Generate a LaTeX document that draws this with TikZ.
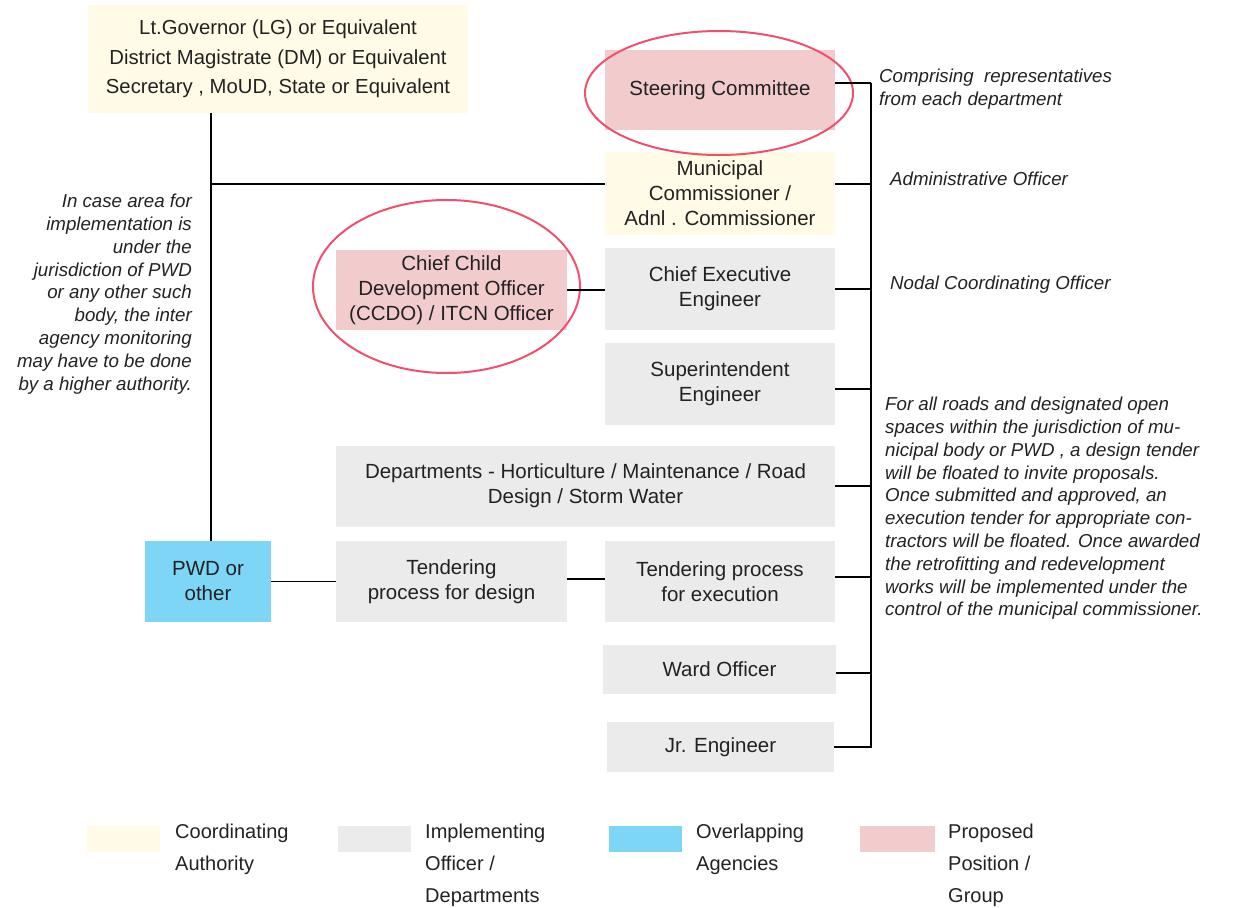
\documentclass[tikz,border=0pt]{standalone}
\usepackage{fontspec}
\setmainfont{Liberation Sans}
\usetikzlibrary{calc}
\definecolor{cream}{HTML}{FFFBE6}
\definecolor{pinkbox}{HTML}{F2CBCD}
\definecolor{graybox}{HTML}{EBEBEB}
\definecolor{bluebox}{HTML}{7DD6F6}
\definecolor{ringred}{HTML}{F0506E}
\definecolor{ink}{HTML}{222222}
\tikzset{
  box/.style={draw=none, inner sep=2pt, align=center, text=ink,
    font=\fontsize{20.5}{25}\selectfont},
  coord/.style={box, fill=cream},
  impl/.style={box, fill=graybox},
  over/.style={box, fill=bluebox},
  prop/.style={box, fill=pinkbox},
  note/.style={inner sep=0pt, text=ink, font=\fontsize{18.7}{22.8}\selectfont\itshape},
  legtext/.style={inner sep=0pt, text=ink, align=left, anchor=north west,
    font=\fontsize{20}{32}\selectfont},
  link/.style={line width=1.8pt, black},
  ring/.style={line width=2pt, ringred}
}
\begin{document}
\begin{tikzpicture}[x=1pt,y=-1pt]
\useasboundingbox (0,0) rectangle (1235,908);

% boxes
\node[coord, minimum width=380pt, minimum height=108pt, font=\fontsize{20.3}{29.5}\selectfont] (lg) at (278,59)
  {Lt.Governor (LG) or Equivalent\\District Magistrate (DM) or Equivalent\\Secretary , MoUD, State or Equivalent};
\node[prop, minimum width=230pt, minimum height=80pt] (steer) at (720,90) {Steering Committee};
\node[coord, minimum width=230pt, minimum height=83pt] (muni) at (720,193.5) {Municipal\\Commissioner /\\Adnl . Commissioner};
\node[impl, minimum width=230pt, minimum height=82pt] (cee) at (720,289) {Chief Executive\\Engineer};
\node[prop, minimum width=231pt, minimum height=80pt] (ccdo) at (451.5,290) {Chief Child\\Development Officer\\(CCDO) / ITCN Officer};
\node[impl, minimum width=230pt, minimum height=82pt] (se) at (720,384) {Superintendent\\Engineer};
\node[impl, minimum width=499pt, minimum height=81pt] (dept) at (585.5,486) {Departments - Horticulture / Maintenance / Road\\Design / Storm Water};
\node[over, minimum width=126pt, minimum height=81pt] (pwd) at (208,581.5) {PWD or\\other};
\node[impl, minimum width=231pt, minimum height=81pt] (tdes) at (451.5,581.5) {Tendering\\process for design};
\node[impl, minimum width=230pt, minimum height=81pt] (texe) at (720,581.5) {Tendering process\\for execution};
\node[impl, minimum width=233pt, minimum height=49pt] (ward) at (719.5,669.5) {Ward Officer};
\node[impl, minimum width=227pt, minimum height=50pt] (jr) at (720.5,747) {Jr. Engineer};

% rings
\draw[ring] (719,93) ellipse [x radius=134, y radius=62];
\draw[ring] (446.5,286.5) ellipse [x radius=133.5, y radius=86.5];

% connectors
\coordinate (busTop) at (871,83);
\coordinate (busBot) at (871,748);
\coordinate (lx) at (211,0);
\coordinate (steerE) at ($(steer.east)+(0,-7)$);
\coordinate (muniE) at ($(muni.east)+(0,-9.5)$);
\coordinate (muniW) at ($(muni.west)+(0,-9.5)$);
\draw[link] (busTop) -- (busBot);
\draw[link] (steerE) -- (steerE -| busTop);
\draw[link] (muniE) -- (muniE -| busTop);
\draw[link] (cee.east) -- (cee.east -| busTop);
\draw[link] ($(se.east)+(0,5)$) -- ($(se.east -| busTop)+(0,5)$);
\draw[link] (dept.east) -- (dept.east -| busTop);
\draw[link] ($(texe.east)+(0,-4.5)$) -- ($(texe.east -| busTop)+(0,-4.5)$);
\draw[link] ($(ward.east)+(0,3.5)$) -- ($(ward.east -| busTop)+(0,3.5)$);
\draw[link] (jr.east) -- (jr.east -| busTop);
\draw[link] (lg.south -| lx) -- (pwd.north -| lx);
\draw[link] (muniW -| lx) -- (muniW);
\draw[link] (ccdo.east) -- (cee.west |- ccdo.east);
\draw[link] (pwd.east) -- (tdes.west |- pwd.east);
\draw[link] ($(tdes.east)+(0,-2.5)$) -- ($(texe.west |- tdes.east)+(0,-2.5)$);

% notes
\node[note, anchor=north west, align=left] (n1) at (879,69) {Comprising~~representatives\\from each department};
\node[note, anchor=west] (n2) at (890,179) {Administrative Officer};
\node[note, anchor=west] (n3) at (890,285) {Nodal Coordinating Officer};
\node[note, anchor=north west, align=left] (n4) at (885,397)
  {For all roads and designated open\\spaces within the jurisdiction of mu-\\nicipal body or PWD , a design tender\\will be floated to invite proposals.\\Once submitted and approved, an\\execution tender for appropriate con-\\tractors will be floated. Once awarded\\the retrofitting and redevelopment\\works will be implemented under the\\control of the municipal commissioner.};
\node[note, anchor=north east, align=right] (n5) at (192,194)
  {In case area for\\implementation is\\under the\\jurisdiction of PWD\\or any other such\\body, the inter\\agency monitoring\\may have to be done\\by a higher authority.};

% legend
\node[fill=cream, minimum width=73pt, minimum height=26pt, inner sep=0pt] (l1) at (123.5,839) {};
\node[fill=graybox, minimum width=73pt, minimum height=26pt, inner sep=0pt] (l2) at (374.5,839) {};
\node[fill=bluebox, minimum width=73pt, minimum height=26pt, inner sep=0pt] (l3) at (645.5,839) {};
\node[fill=pinkbox, minimum width=75pt, minimum height=26pt, inner sep=0pt] (l4) at (897.5,839) {};
\node[legtext] (t1) at (175,824) {Coordinating\\Authority};
\node[legtext] (t2) at (425,824) {Implementing\\Officer /\\Departments};
\node[legtext] (t3) at (696,824) {Overlapping\\Agencies};
\node[legtext] (t4) at (948,824) {Proposed\\Position /\\Group};
\end{tikzpicture}
\end{document}
